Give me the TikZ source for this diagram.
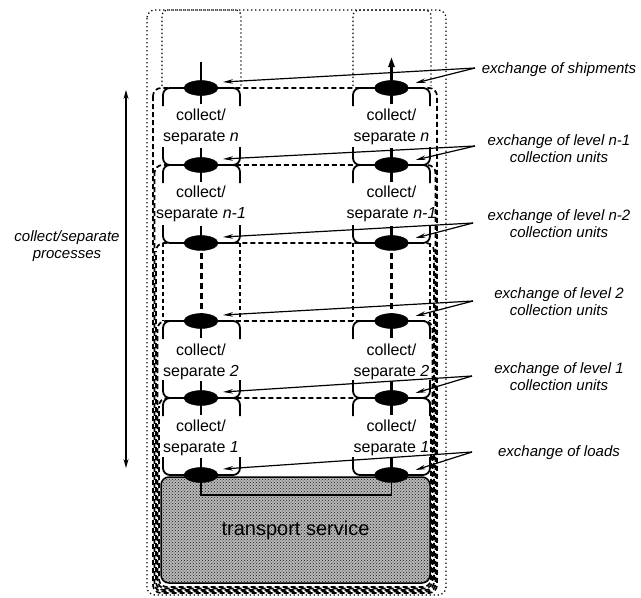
\documentclass[tikz,border=0pt]{standalone}
\usepackage{fontspec}
\setmainfont{Liberation Sans}
\usetikzlibrary{shapes.geometric,arrows.meta,patterns,calc}
\begin{document}
\begin{tikzpicture}[x=1pt,y=-1pt,
  blob/.style={ellipse, fill=black, draw=black, minimum width=34pt, minimum height=15pt, inner sep=0pt},
  boxline/.style={line width=1.8pt, rounded corners=7pt},
  stem/.style={line width=2.4pt},
  dotline/.style={line width=1.3pt, dash pattern=on 1.3pt off 2.7pt},
  band/.style={line width=1.7pt, dash pattern=on 5pt off 3pt, rounded corners=8pt},
  coldash/.style={line width=1.3pt, dash pattern=on 4pt off 3pt},
  linkarrow/.style={line width=1.2pt, -{Stealth[length=10pt,width=4.5pt]}},
  boxtext/.style={font=\fontsize{16}{21}\selectfont, align=center},
  lbl/.style={font=\fontsize{15}{17}\itshape\selectfont, align=center},
]
\useasboundingbox (0,0) rectangle (641,598);

% level points
\foreach \i/\y in {0/88,1/165,2/243,3/321,4/398,5/475} {
  \coordinate (pL\i) at (201,\y);
  \coordinate (pR\i) at (391.5,\y);
}

% outer dotted frame and top dotted columns
\draw[dotline, rounded corners=8pt] (147,10) rectangle (446,595);
\draw[dotline, rounded corners=6pt] (162,86) -- (162,10) -- (241,10) -- (241,86);
\draw[dotline, rounded corners=6pt] (353,86) -- (353,10) -- (431,10) -- (431,86);

% nested dashed enclosures
\draw[band, dash phase=0pt] (153,88) rectangle (437,593);
\draw[band, dash phase=2pt] (154.5,165) rectangle (435.5,591.5);
\draw[band, dash phase=4pt] (156,243) rectangle (434,590);
\draw[band, dash phase=1pt] (157.5,321) rectangle (432.5,588.5);
\draw[band, dash phase=3pt] (159,398) rectangle (431,587);

% transport service
\node[draw, line width=1.5pt, rounded corners=8pt, preaction={fill=black!28},
      pattern=crosshatch dots, pattern color=black!90,
      minimum width=269pt, minimum height=106pt,
      font=\fontsize{20}{24}\selectfont] (transport) at (295.5,530) {transport service};

% dashed gap region between level n-1 and level 2
\draw[coldash] (163,243) -- (163,321);
\draw[coldash] (240,243) -- (240,321);
\draw[coldash] (353,243) -- (353,321);
\draw[coldash] (430,243) -- (430,321);
\draw[line width=3pt, dash pattern=on 6pt off 4pt] (pL2) -- (pL3);
\draw[line width=3pt, dash pattern=on 6pt off 4pt] (pR2) -- (pR3);

% box outlines (top and bottom brackets)
\foreach \a/\b in {88/165,165/243,321/398,398/475} {
  \foreach \l/\r in {163/240,353/430} {
    \draw[boxline] (\l,\a+18) -- (\l,\a) -- (\r,\a) -- (\r,\a+18);
    \draw[boxline] (\l,\b-18) -- (\l,\b) -- (\r,\b) -- (\r,\b-18);
  }
}

% stems
\draw[stem] (201,62) -- (201,104);
\draw[stem, -{Triangle[length=10pt,width=6pt]}] (391.5,104) -- (391.5,57);
\foreach \x in {201,391.5} {
  \draw[stem] (\x,148) -- (\x,182);
  \draw[stem] (\x,226) -- (\x,243);
  \draw[stem] (\x,321) -- (\x,338);
  \draw[stem] (\x,381) -- (\x,415);
  \draw[stem] (\x,458) -- (\x,475);
}
\draw[line width=1.8pt] (pL5) |- ($(pR5)+(0,20)$) -| (pR5);

% ellipses
\foreach \i in {0,...,5} {
  \node[blob] (eL\i) at (pL\i) {};
  \node[blob] (eR\i) at (pR\i) {};
}

% box texts
\foreach \x/\s in {201/L,391.5/R} {
  \node[boxtext] (bn\s) at (\x,127) {collect/\\separate \textit{n}};
  \node[boxtext] (bm\s) at (\x,204) {collect/\\separate \textit{n-1}};
  \node[boxtext] (b2\s) at (\x,361.5) {collect/\\separate \textit{2}};
  \node[boxtext] (b1\s) at (\x,438) {collect/\\separate \textit{1}};
}

% side label and double arrow
\node[lbl] (side) at (67,246) {collect/separate\\processes};
\coordinate (aT) at (126,90);
\coordinate (aB) at (126,468);
\draw[line width=1.1pt, {Stealth[length=9pt,width=5pt]}-{Stealth[length=9pt,width=5pt]}] (aT) -- (aB);

% right labels
\node[lbl] (x0) at (559,70) {exchange of shipments};
\node[lbl] (x1) at (559,148.5) {exchange of level n-1\\collection units};
\node[lbl] (x2) at (559,223.5) {exchange of level n-2\\collection units};
\node[lbl] (x3) at (559,301.5) {exchange of level 2\\collection units};
\node[lbl] (x4) at (559,376.5) {exchange of level 1\\collection units};
\node[lbl] (x5) at (559,453) {exchange of loads};

% convergence points and arrow tips
\foreach \i/\cx/\cy in {0/475/68,1/475/146,2/473/223,3/473/301,4/472/376,5/472/452} {
  \coordinate (c\i) at (\cx,\cy);
  \coordinate (tL\i) at ($(eL\i)+(22,-6)$);
  \coordinate (tR\i) at ($(eR\i)+(24,-5)$);
  \draw[linkarrow] (c\i) -- (tL\i);
  \draw[linkarrow] (c\i) -- (tR\i);
}
\end{tikzpicture}
\end{document}
